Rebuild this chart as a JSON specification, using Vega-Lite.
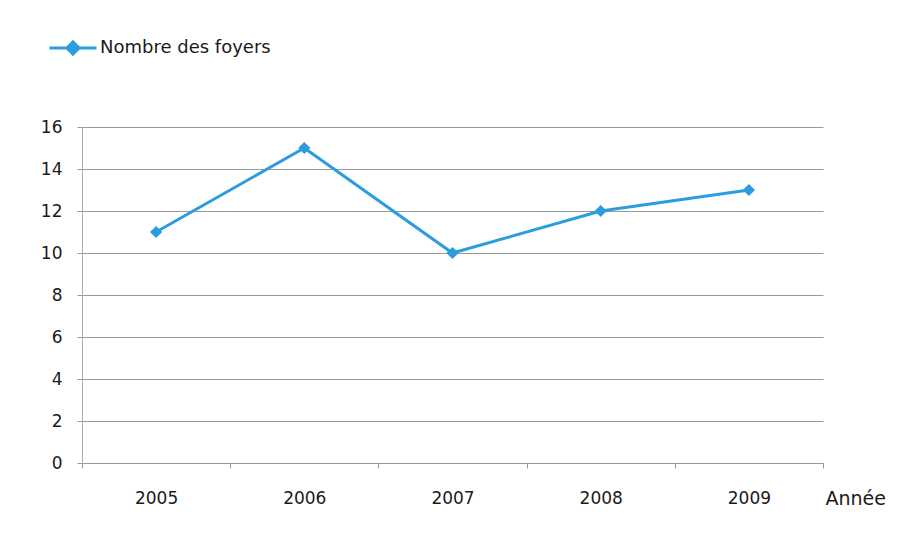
{
  "$schema": "https://vega.github.io/schema/vega-lite/v6.json",
  "autosize": {"type": "none"},
  "width": 741,
  "height": 336,
  "padding": {"left": 82, "top": 127, "right": 99, "bottom": 74},
  "background": "white",
  "config": {
    "view": {"stroke": null},
    "font": "DejaVu Sans"
  },
  "data": {
    "values": [
      {"annee": "2005", "valeur": 11, "serie": "Nombre des foyers"},
      {"annee": "2006", "valeur": 15, "serie": "Nombre des foyers"},
      {"annee": "2007", "valeur": 10, "serie": "Nombre des foyers"},
      {"annee": "2008", "valeur": 12, "serie": "Nombre des foyers"},
      {"annee": "2009", "valeur": 13, "serie": "Nombre des foyers"}
    ]
  },
  "mark": {
    "type": "line",
    "strokeWidth": 3,
    "point": {"shape": "diamond", "size": 150, "filled": true, "color": "#2b9ddc"}
  },
  "encoding": {
    "x": {
      "field": "annee",
      "type": "ordinal",
      "scale": {"paddingInner": 0, "paddingOuter": 0},
      "axis": {
        "title": "Année",
        "titleX": 743,
        "titleY": 35,
        "titleAlign": "left",
        "titleBaseline": "middle",
        "titleFont": "DejaVu Sans",
        "titleFontSize": 19,
        "titleFontWeight": "normal",
        "titleColor": "#1a1a1a",
        "labelAngle": 0,
        "labelFontSize": 17,
        "labelColor": "#1a1a1a",
        "labelPadding": 22,
        "tickBand": "extent",
        "tickSize": 5,
        "tickColor": "#999",
        "domainColor": "#999",
        "grid": false
      }
    },
    "y": {
      "field": "valeur",
      "type": "quantitative",
      "scale": {"domain": [0, 16], "nice": false},
      "axis": {
        "title": null,
        "values": [0, 2, 4, 6, 8, 10, 12, 14, 16],
        "labelFontSize": 17,
        "labelColor": "#1a1a1a",
        "labelPadding": 15,
        "tickSize": 5,
        "tickColor": "#999",
        "gridColor": "#999",
        "gridWidth": 1,
        "domainColor": "#aaa"
      }
    },
    "color": {
      "field": "serie",
      "type": "nominal",
      "scale": {"range": ["#2b9ddc"]},
      "legend": {
        "title": null,
        "orient": "none",
        "legendX": -34,
        "legendY": -104,
        "symbolType": "M-1,0L1,0M-0.26,0L0,-0.26L0.26,0L0,0.26Z",
        "symbolSize": 2209,
        "symbolStrokeWidth": 3,
        "symbolFillColor": "#2b9ddc",
        "labelFontSize": 18,
        "labelLimit": 400,
        "labelColor": "#1a1a1a",
        "labelOffset": 2
      }
    }
  }
}
